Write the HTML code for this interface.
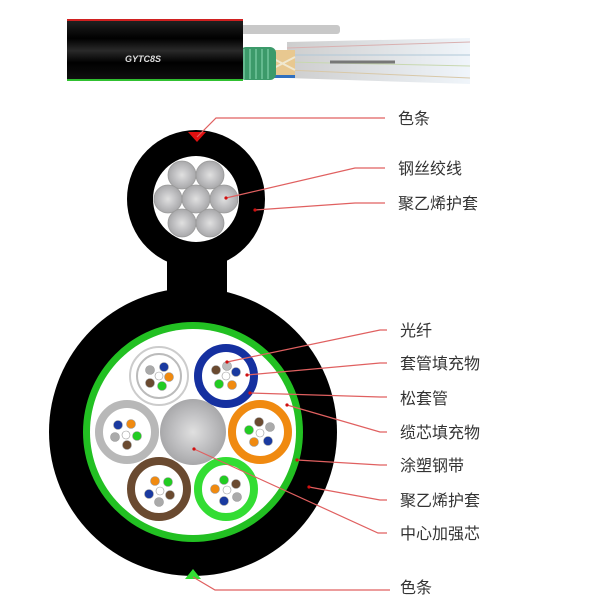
<!DOCTYPE html>
<html><head><meta charset="utf-8"><style>
html,body{margin:0;padding:0;background:#fff;}
svg{display:block}
text{font-family:"Liberation Sans","Noto Sans CJK SC",sans-serif;font-size:16px;fill:#333;}
</style></head><body>
<svg width="610" height="599" viewBox="0 0 610 599" xmlns="http://www.w3.org/2000/svg">
<defs>
<radialGradient id="steel" cx="50%" cy="50%" r="50%">
<stop offset="0" stop-color="#e0e0e0"/><stop offset="0.5" stop-color="#c4c4c6"/><stop offset="1" stop-color="#a8a8aa"/>
</radialGradient>
<linearGradient id="fan" x1="0" x2="1"><stop offset="0" stop-color="#c8c8c8"/><stop offset="1" stop-color="#eef4fa"/></linearGradient>
<linearGradient id="body" x1="0" y1="0" x2="0" y2="1"><stop offset="0" stop-color="#222"/><stop offset="0.3" stop-color="#000"/><stop offset="0.5" stop-color="#2a2a2a"/><stop offset="0.7" stop-color="#000"/><stop offset="1" stop-color="#111"/></linearGradient>
</defs>

<!-- top cable picture -->
<polygon points="287,42 470,38 470,84 287,78" fill="url(#fan)" opacity="0.9"/>
<g stroke-width="1">
<line x1="287" y1="48" x2="470" y2="42" stroke="#d9b0b0"/>
<line x1="287" y1="55" x2="470" y2="55" stroke="#b0c8d8"/>
<line x1="287" y1="62" x2="470" y2="66" stroke="#c8d8b0"/>
<line x1="287" y1="70" x2="470" y2="78" stroke="#d8c8a8"/>
<line x1="330" y1="62" x2="395" y2="62" stroke="#777" stroke-width="3"/>
</g>
<rect x="270" y="50" width="25" height="28" fill="#e8c890"/>
<line x1="270" y1="57" x2="295" y2="70" stroke="#f0e8d0" stroke-width="2"/>
<line x1="270" y1="70" x2="295" y2="57" stroke="#f0e8d0" stroke-width="2"/>
<rect x="270" y="75" width="25" height="3" fill="#3070c0"/>
<rect x="240" y="25" width="100" height="9" rx="3" fill="#c8c8c8"/>
<rect x="240" y="47" width="36" height="33" rx="6" fill="#3c9a6a"/>
<g stroke="#7fd0a8" stroke-width="1.2">
<line x1="244" y1="49" x2="244" y2="79"/><line x1="250" y1="49" x2="250" y2="79"/><line x1="256" y1="49" x2="256" y2="79"/><line x1="262" y1="49" x2="262" y2="79"/><line x1="268" y1="49" x2="268" y2="79"/></g>
<rect x="67" y="20" width="176" height="61" fill="url(#body)"/>
<rect x="67" y="19" width="176" height="2" fill="#d02020"/>
<rect x="67" y="79" width="176" height="2" fill="#30c030"/>
<text x="125" y="62" style="font-size:9px;font-style:italic;font-weight:bold;fill:#ddd">GYTC8S</text>

<!-- upper messenger section -->
<rect x="167" y="240" width="60" height="60" fill="#000"/>
<circle cx="196" cy="199" r="69" fill="#000"/>
<circle cx="196" cy="199" r="43" fill="#fff"/>
<g fill="url(#steel)" stroke="#999" stroke-width="0.8">
<circle cx="182" cy="175" r="14"/><circle cx="210" cy="175" r="14"/>
<circle cx="168" cy="199" r="14"/><circle cx="196" cy="199" r="14"/><circle cx="224" cy="199" r="14"/>
<circle cx="182" cy="223" r="14"/><circle cx="210" cy="223" r="14"/>
</g>
<polygon points="188,132 206,132 197,142" fill="#e01010"/>

<!-- main cable -->
<circle cx="193" cy="432" r="144" fill="#000"/>
<circle cx="193" cy="432" r="110" fill="#22c022"/>
<circle cx="193" cy="432" r="103" fill="#fff"/>
<circle cx="193" cy="432" r="33" fill="url(#steel)"/>

<g id="tubes">
<!-- white -->
<circle cx="159" cy="376" r="29" fill="#fff" stroke="#ccc" stroke-width="2"/>
<circle cx="159" cy="376" r="22" fill="#fff" stroke="#bbb" stroke-width="2"/>
<!-- blue -->
<circle cx="226" cy="376" r="28" fill="#fff" stroke="#1530a0" stroke-width="8"/>
<!-- gray -->
<circle cx="127" cy="432" r="28" fill="#fff" stroke="#b8b8b8" stroke-width="8"/>
<!-- orange -->
<circle cx="260" cy="432" r="28" fill="#fff" stroke="#f08a10" stroke-width="8"/>
<!-- brown -->
<circle cx="159" cy="489" r="28" fill="#fff" stroke="#6a4a30" stroke-width="8"/>
<!-- green -->
<circle cx="226" cy="489" r="28" fill="#fff" stroke="#33dd33" stroke-width="8"/>
</g>

<g stroke="#999" stroke-width="0.6">
<!-- fibers: white tube -->
<circle cx="159" cy="376" r="4" fill="#fff"/>
<circle cx="150" cy="370" r="4.5" fill="#aaa"/><circle cx="164" cy="367" r="4.5" fill="#1a3aa0"/><circle cx="169" cy="377" r="4.5" fill="#f08a10"/><circle cx="162" cy="386" r="4.5" fill="#22cc22"/><circle cx="150" cy="383" r="4.5" fill="#6a4a30"/>
<!-- blue -->
<circle cx="226" cy="376" r="4" fill="#fff"/>
<circle cx="227" cy="366" r="4.5" fill="#bbb"/><circle cx="236" cy="372" r="4.5" fill="#1a3aa0"/><circle cx="232" cy="385" r="4.5" fill="#f08a10"/><circle cx="219" cy="384" r="4.5" fill="#22cc22"/><circle cx="216" cy="370" r="4.5" fill="#6a4a30"/>
<!-- gray -->
<circle cx="126" cy="435" r="4" fill="#fff"/>
<circle cx="118" cy="425" r="4.5" fill="#1a3aa0"/><circle cx="131" cy="424" r="4.5" fill="#f08a10"/><circle cx="137" cy="436" r="4.5" fill="#22cc22"/><circle cx="127" cy="445" r="4.5" fill="#6a4a30"/><circle cx="115" cy="437" r="4.5" fill="#aaa"/>
<!-- orange -->
<circle cx="260" cy="433" r="4" fill="#fff"/>
<circle cx="259" cy="422" r="4.5" fill="#6a4a30"/><circle cx="270" cy="427" r="4.5" fill="#aaa"/><circle cx="268" cy="441" r="4.5" fill="#1a3aa0"/><circle cx="254" cy="442" r="4.5" fill="#f08a10"/><circle cx="249" cy="430" r="4.5" fill="#22cc22"/>
<!-- brown -->
<circle cx="160" cy="491" r="4" fill="#fff"/>
<circle cx="155" cy="481" r="4.5" fill="#f08a10"/><circle cx="168" cy="482" r="4.5" fill="#22cc22"/><circle cx="170" cy="495" r="4.5" fill="#6a4a30"/><circle cx="159" cy="502" r="4.5" fill="#aaa"/><circle cx="149" cy="494" r="4.5" fill="#1a3aa0"/>
<!-- green -->
<circle cx="227" cy="490" r="4" fill="#fff"/>
<circle cx="224" cy="480" r="4.5" fill="#22cc22"/><circle cx="236" cy="484" r="4.5" fill="#6a4a30"/><circle cx="237" cy="497" r="4.5" fill="#aaa"/><circle cx="224" cy="501" r="4.5" fill="#1a3aa0"/><circle cx="215" cy="489" r="4.5" fill="#f08a10"/>
</g>
<polygon points="193,569 185,579 201,579" fill="#33dd33"/>

<!-- leader lines -->
<g fill="none" stroke="#e06060" stroke-width="1.2">
<polyline points="197,137 216,118 385,118"/>
<polyline points="226,198 355,168 385,168"/>
<polyline points="255,210 355,203 385,203"/>
<polyline points="227,362 380,330 387,330"/>
<polyline points="247,375 380,363 387,363"/>
<polyline points="250,393 380,397 387,397"/>
<polyline points="287,405 380,432 387,432"/>
<polyline points="297,460 380,465 387,465"/>
<polyline points="309,487 380,500 387,500"/>
<polyline points="194,449 378,533 387,533"/>
<polyline points="193,577 215,590 390,590"/>
</g>
<g fill="#d01010">
<circle cx="226" cy="198" r="1.6"/><circle cx="255" cy="210" r="1.6"/><circle cx="227" cy="362" r="1.6"/><circle cx="247" cy="375" r="1.6"/><circle cx="250" cy="393" r="1.6"/><circle cx="287" cy="405" r="1.6"/><circle cx="297" cy="460" r="1.6"/><circle cx="309" cy="487" r="1.6"/><circle cx="194" cy="449" r="1.6"/>
</g>

<!-- labels -->
<text x="398" y="124">色条</text>
<text x="398" y="174">钢丝绞线</text>
<text x="398" y="209">聚乙烯护套</text>
<text x="400" y="336">光纤</text>
<text x="400" y="369">套管填充物</text>
<text x="400" y="404">松套管</text>
<text x="400" y="438">缆芯填充物</text>
<text x="400" y="471">涂塑钢带</text>
<text x="400" y="506">聚乙烯护套</text>
<text x="400" y="539">中心加强芯</text>
<text x="400" y="593">色条</text>
</svg>
</body></html>
